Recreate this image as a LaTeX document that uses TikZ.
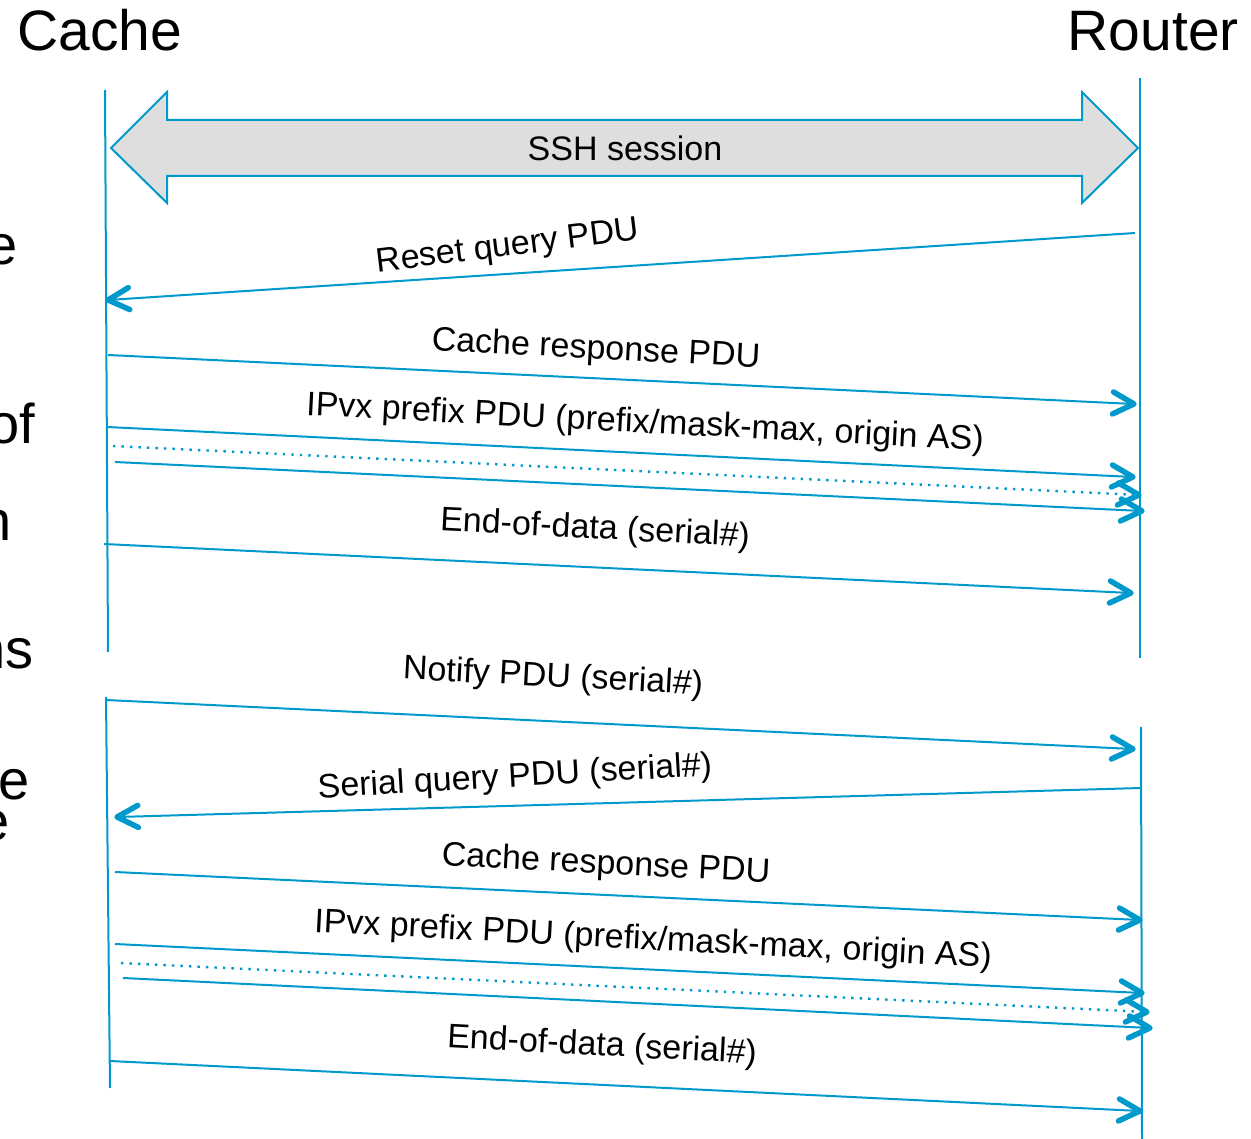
\documentclass[tikz,border=0pt]{standalone}
\usepackage{fontspec}
\setmainfont{Liberation Sans}
\usetikzlibrary{decorations.markings}
\definecolor{wire}{RGB}{0,153,204}
\definecolor{pipe}{RGB}{222,222,222}

\begin{document}
\begin{tikzpicture}[x=1pt,y=-1pt,
  lifeline/.style={draw=wire, line width=2pt},
  % open chevron head drawn with a heavier stroke than the shaft
  msg/.style={draw=wire, line width=2pt,
    postaction={decorate, decoration={markings,
      mark=at position 1 with {\draw[wire, solid, line width=5.5pt,
        line cap=round, line join=round]
        (-21pt,-11pt) -- (0pt,0pt) -- (-21pt,11pt);}}}},
  msgdots/.style={msg, line width=2.4pt, dash pattern=on 2.4pt off 6.1pt},
  lbl/.style={font=\fontsize{34}{38}\selectfont, inner sep=0pt},
  actor/.style={font=\fontsize{57}{60}\selectfont, inner sep=0pt},
  side/.style={font=\fontsize{56}{60}\selectfont, inner sep=0pt, anchor=base east},
]
\useasboundingbox (0,0) rectangle (1251,1139);
\clip (0,0) rectangle (1251,1139);

% actors
\node[actor, anchor=base west] (cache) at (17,51) {Cache};
\node[actor, anchor=base east] (router) at (1239,51) {Router};

% text of the neighbouring column, cut by the page edge
\node[side] (s1) at (18,265) {e};
\node[side] (s2) at (35,444) {of};
\node[side] (s3) at (12,540) {n};
\node[side] (s4) at (34,668) {ns};
\node[side] (s5) at (30,799) {e};
\node[side] (s6) at (10,840) {e};

% lifelines
\coordinate (cA1) at (105,90);   \coordinate (cA2) at (108,652);
\coordinate (cB1) at (106,697);  \coordinate (cB2) at (110,1088);
\coordinate (rA1) at (1140,78);  \coordinate (rA2) at (1140,658);
\coordinate (rB1) at (1141,727); \coordinate (rB2) at (1142,1139);
\draw[lifeline] (cA1) -- (cA2);
\draw[lifeline] (cB1) -- (cB2);
\draw[lifeline] (rA1) -- (rA2);
\draw[lifeline] (rB1) -- (rB2);

% SSH session block arrow
\draw[draw=wire, fill=pipe, line width=2pt, line join=miter]
  (111,148) -- (167,92) -- (167,120) -- (1082,120) -- (1082,92) -- (1138,148)
  -- (1082,203) -- (1082,176) -- (167,176) -- (167,203) -- cycle;
\node[lbl] (ssh) at (625,148) {SSH session};

% first exchange
\coordinate (m1s) at (1135,233); \coordinate (m1e) at (108,300);
\draw[msg] (m1s) -- (m1e);
\node[lbl, rotate=7] (l1) at (508,248) {Reset query PDU};

\coordinate (m2s) at (108,355); \coordinate (m2e) at (1134,404);
\draw[msg] (m2s) -- (m2e);
\node[lbl, rotate=-3] (l2) at (596,350) {Cache response PDU};

\coordinate (m3s) at (107,427); \coordinate (m3e) at (1133,477);
\coordinate (m3ds) at (113,446); \coordinate (m3de) at (1139,495);
\coordinate (m3bs) at (115,462); \coordinate (m3be) at (1142,511);
\draw[msg] (m3s) -- (m3e);
\draw[msgdots] (m3ds) -- (m3de);
\draw[msg] (m3bs) -- (m3be);
\node[lbl, rotate=-3] (l3) at (645,424) {IPvx prefix PDU (prefix/mask-max, origin AS)};

\coordinate (m4s) at (104,544); \coordinate (m4e) at (1131,593);
\draw[msg] (m4s) -- (m4e);
\node[lbl, rotate=-3] (l4) at (595,530) {End-of-data (serial\#)};

% second exchange
\coordinate (m5s) at (106,700); \coordinate (m5e) at (1133,749);
\draw[msg] (m5s) -- (m5e);
\node[lbl, rotate=-3] (l5) at (553,678) {Notify PDU (serial\#)};

\coordinate (m6s) at (1141,788); \coordinate (m6e) at (117,817);
\draw[msg] (m6s) -- (m6e);
\node[lbl, rotate=3.3] (l6) at (515,778) {Serial query PDU (serial\#)};

\coordinate (m7s) at (115,872); \coordinate (m7e) at (1140,920);
\draw[msg] (m7s) -- (m7e);
\node[lbl, rotate=-3] (l7) at (606,865) {Cache response PDU};

\coordinate (m8s) at (115,944); \coordinate (m8e) at (1142,993);
\coordinate (m8ds) at (121,963); \coordinate (m8de) at (1147,1012);
\coordinate (m8bs) at (123,978); \coordinate (m8be) at (1150,1028);
\draw[msg] (m8s) -- (m8e);
\draw[msgdots] (m8ds) -- (m8de);
\draw[msg] (m8bs) -- (m8be);
\node[lbl, rotate=-3] (l8) at (653,941) {IPvx prefix PDU (prefix/mask-max, origin AS)};

\coordinate (m9s) at (110,1061); \coordinate (m9e) at (1140,1111);
\draw[msg] (m9s) -- (m9e);
\node[lbl, rotate=-3] (l9) at (602,1047) {End-of-data (serial\#)};
\end{tikzpicture}
\end{document}
